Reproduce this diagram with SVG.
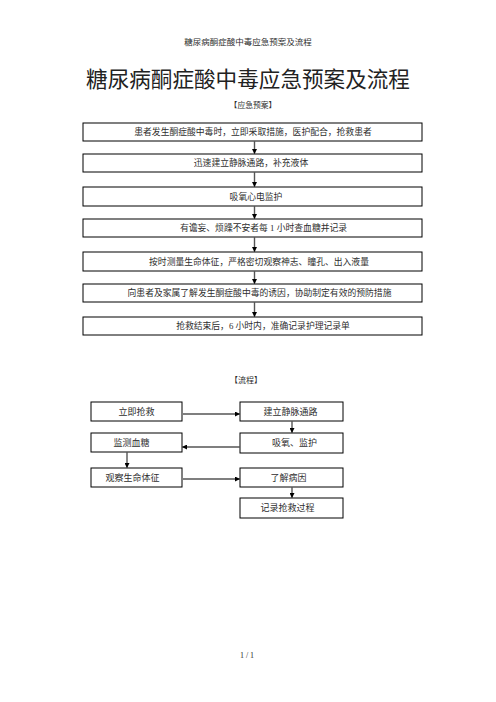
<svg xmlns="http://www.w3.org/2000/svg" width="496" height="702" viewBox="0 0 496 702">
<style>
text{font-family:"Liberation Serif","Noto Sans CJK SC",serif;fill:#2e2e2e;text-anchor:middle}
.t{font-size:8.8px}
.f{font-size:9px}
rect{fill:#fff;stroke:#000;stroke-width:1}
.c line{stroke:#555;stroke-width:1.4}
</style>
<defs>
<marker id="ah" viewBox="0 0 10 10" refX="10" refY="5" markerWidth="5" markerHeight="5" markerUnits="userSpaceOnUse" orient="auto"><path d="M0,0 L10,5 L0,10 z" fill="#000"/></marker>
</defs>
<rect x="0" y="0" width="496" height="702" style="stroke:none"/>
<text x="248" y="45" style="font-size:8.5px">糖尿病酮症酸中毒应急预案及流程</text>
<text x="248" y="87" style="font-size:21.6px;fill:#222">糖尿病酮症酸中毒应急预案及流程</text>
<text x="253" y="108" style="font-size:7.8px">【应急预案】</text>

<g id="n1"><rect x="83" y="123" width="339" height="18"/><text class="t" x="253" y="135.3">患者发生酮症酸中毒时，立即采取措施，医护配合，抢救患者</text></g>
<g id="n2"><rect x="83" y="154" width="339" height="18"/><text class="t" x="251" y="166.3">迅速建立静脉通路，补充液体</text></g>
<g id="n3"><rect x="83" y="187" width="339" height="19"/><text class="t" x="256" y="199.8">吸氧心电监护</text></g>
<g id="n4"><rect x="83" y="219" width="339" height="18"/><text class="t" x="263.5" y="231.3">有谵妄、烦躁不安者每 1 小时查血糖并记录</text></g>
<g id="n5"><rect x="83" y="252" width="339" height="19"/><text class="t" x="259" y="264.8">按时测量生命体征，严格密切观察神志、瞳孔、出入液量</text></g>
<g id="n6"><rect x="83" y="284" width="339" height="18"/><text class="t" x="259.5" y="296.3">向患者及家属了解发生酮症酸中毒的诱因，协助制定有效的预防措施</text></g>
<g id="n7"><rect x="83" y="317" width="339" height="18"/><text class="t" x="263" y="329.3">抢救结束后，6 小时内，准确记录护理记录单</text></g>

<text x="246" y="383" style="font-size:8px">【流程】</text>

<g id="f1"><rect x="91" y="402" width="91" height="19"/><text class="f" x="136.5" y="414.8">立即抢救</text></g>
<g id="f2"><rect x="240" y="402" width="103" height="19"/><text class="f" x="290.5" y="414.8">建立静脉通路</text></g>
<g id="f3"><rect x="240" y="433" width="103" height="20"/><text class="f" x="294.5" y="446.3">吸氧、监护</text></g>
<g id="f4"><rect x="91" y="433" width="91" height="19"/><text class="f" x="131.5" y="445.8">监测血糖</text></g>
<g id="f5"><rect x="91" y="468" width="91" height="19"/><text class="f" x="132.5" y="480.8">观察生命体征</text></g>
<g id="f6"><rect x="240" y="468" width="103" height="19"/><text class="f" x="288.5" y="480.8">了解病因</text></g>
<g id="f7"><rect x="240" y="498" width="103" height="20"/><text class="f" x="287.5" y="511.3">记录抢救过程</text></g>

<g class="c" id="connectors">
<line x1="254.5" y1="141" x2="254.5" y2="154" marker-end="url(#ah)"/>
<line x1="254.5" y1="172" x2="254.5" y2="187" marker-end="url(#ah)"/>
<line x1="254.5" y1="206" x2="254.5" y2="219" marker-end="url(#ah)"/>
<line x1="254.5" y1="237" x2="254.5" y2="252" marker-end="url(#ah)"/>
<line x1="254.5" y1="271" x2="254.5" y2="284" marker-end="url(#ah)"/>
<line x1="254.5" y1="302" x2="254.5" y2="317" marker-end="url(#ah)"/>
<line x1="183" y1="414" x2="240" y2="414" marker-end="url(#ah)"/>
<line x1="292" y1="421" x2="292" y2="433" marker-end="url(#ah)"/>
<line x1="240" y1="447" x2="182" y2="447" marker-end="url(#ah)"/>
<line x1="127" y1="452" x2="127" y2="468" marker-end="url(#ah)"/>
<line x1="183" y1="479" x2="240" y2="479" marker-end="url(#ah)"/>
<line x1="292" y1="487" x2="292" y2="498" marker-end="url(#ah)"/>
</g>

<text x="247" y="658" style="font-size:8px">1 / 1</text>
</svg>
